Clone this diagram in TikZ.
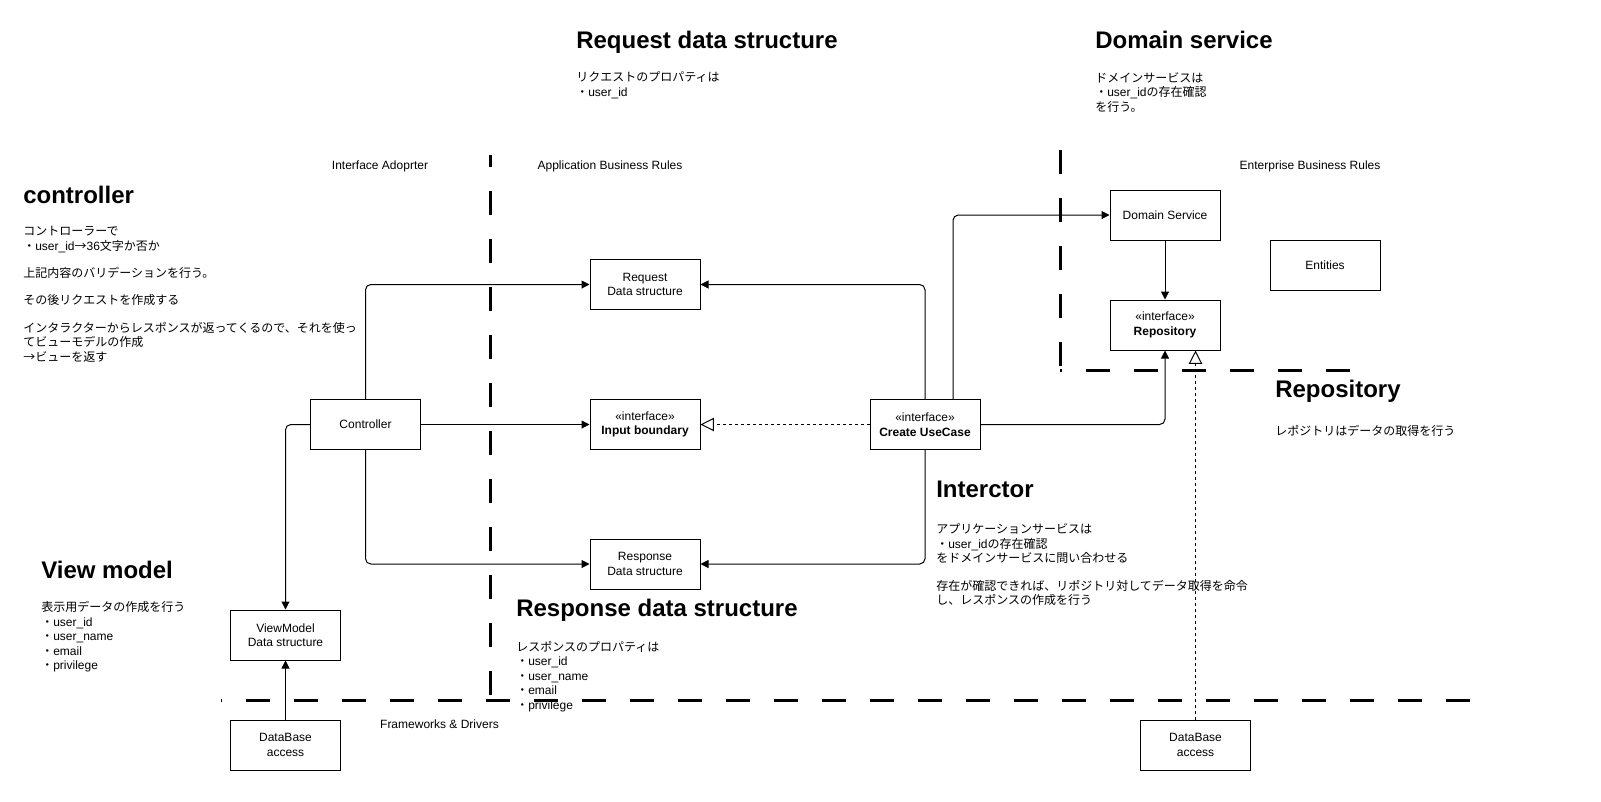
\documentclass[tikz,border=0pt]{standalone}
\usepackage{fontspec}
\setmainfont{Liberation Sans}
\newfontfamily\jp{Noto Sans CJK JP}
\usetikzlibrary{arrows.meta}

\tikzset{
  box/.style={draw, line width=0.75pt, minimum width=82.5pt, minimum height=37.5pt,
    inner sep=0pt, align=center, font=\fontsize{9pt}{10.8pt}\selectfont},
  heading/.style={anchor=base west, inner sep=0pt, font=\fontsize{18pt}{21.6pt}\selectfont\bfseries},
  % 多行说明: 锚点在最后一行的基线
  memo/.style={anchor=base west, inner sep=0pt, align=left, font=\fontsize{9pt}{10.8pt}\selectfont},
  layer/.style={anchor=base, inner sep=0pt, font=\fontsize{9pt}{10.8pt}\selectfont},
  border/.style={line width=2.25pt, dash pattern=on 18pt off 18pt},
  flow/.style={line width=0.75pt, rounded corners=4pt, -{Triangle[length=6pt,width=6pt]}},
  realize/.style={line width=0.75pt, dash pattern=on 2.25pt off 2.25pt,
    -{Triangle[open,length=10pt,width=10pt,fill=white]}},
}

\begin{document}
\begin{tikzpicture}[x=0.75pt, y=-0.75pt]
        \useasboundingbox (0,0) rectangle (1601,801);

        % 边界线
        \draw[border] (490,695) -- (490,155);
        \draw[border] (1060,150) -- (1060,368);
        \draw[border] (1350,370) -- (1060,370);
        \draw[border] (1470,700) -- (221,700);

        % 层名
        \node[layer] (ia) at (380,169) {Interface Adoprter};
        \node[layer] (abr) at (610,169) {Application Business Rules};
        \node[layer] (ebr) at (1310,169) {Enterprise Business Rules};
        \node[layer] (fd) at (439.5,728) {Frameworks \& Drivers};

        % 节点
        \node[box] (ctrl) at (365.5,424.5) {Controller};
        \node[box] (req) at (645,284.5) {Request\\Data structure};
        \node[box] (input) at (645,424.5) {«interface»\\\textbf{Input boundary}};
        \node[box] (resp) at (645,564) {Response\\Data structure};
        \node[box] (usecase) at (925,424.5) {«interface»\\\textbf{Create UseCase}};
        \node[box] (vm) at (285.5,635) {ViewModel\\Data structure};
        \node[box] (dbl) at (285.5,745) {DataBase\\access};
        \node[box] (dsvc) at (1165,215) {Domain Service};
        \node[box] (ent) at (1325,265) {Entities};
        \node[box] (repo) at (1165,325) {«interface»\\\textbf{Repository}};
        \node[box] (dbr) at (1195.5,745) {DataBase\\access};

        % 连接线
        \draw[flow] (ctrl.north) |- (req.west);
        \draw[flow] (ctrl) -- (input);
        \draw[flow] (ctrl.south) |- (resp.west);
        \draw[flow] (ctrl.west) -| (vm.north);
        \draw[flow] (dbl) -- (vm);
        \draw[realize] (usecase) -- (input);
        \draw[flow] (usecase.north) |- (req.east);
        \draw[flow] ([xshift=21pt]usecase.north) |- (dsvc.west);
        \draw[flow] (usecase.south) |- (resp.east);
        \draw[flow] (usecase.east) -| (repo.south);
        \draw[flow] (dsvc) -- (repo);
        \draw[realize] (dbr.north) -- (dbr.north |- repo.south);

        % 说明
        \node[heading] (hctrl) at (23,203) {controller};
        \node[memo] (mctrl) at (23,361) {{\jp コントローラーで}\\
          {\jp ・}user\_id{\jp →}36{\jp 文字か否か}\\[9.75pt]
          {\jp 上記内容のバリデーションを行う。}\\[9.75pt]
          {\jp その後リクエストを作成する}\\[9.75pt]
          {\jp インタラクターからレスポンスが返ってくるので、それを使っ}\\
          {\jp てビューモデルの作成}\\
          {\jp →ビューを返す}};

        \node[heading] (hreq) at (576,48) {Request data structure};
        \node[memo] (mreq) at (576,96) {{\jp リクエストのプロパティは}\\
          {\jp ・}user\_id};

        \node[heading] (hdsvc) at (1095,48) {Domain service};
        \node[memo] (mdsvc) at (1095,111) {{\jp ドメインサービスは}\\
          {\jp ・}user\_id{\jp の存在確認}\\
          {\jp を行う。}};

        \node[heading] (hrepo) at (1275,397) {Repository};
        \node[memo] (mrepo) at (1275,435) {{\jp レポジトリはデータの取得を行う}};

        \node[heading] (hint) at (936,497) {Interctor};
        \node[memo] (mint) at (936,604.5) {{\jp アプリケーションサービスは}\\
          {\jp ・}user\_id{\jp の存在確認}\\
          {\jp をドメインサービスに問い合わせる}\\[9.75pt]
          {\jp 存在が確認できれば、リポジトリ対してデータ取得を命令}\\
          {\jp し、レスポンスの作成を行う}};

        \node[heading] (hvm) at (41,578) {View model};
        \node[memo] (mvm) at (41,669.5) {{\jp 表示用データの作成を行う}\\
          {\jp ・}user\_id\\
          {\jp ・}user\_name\\
          {\jp ・}email\\
          {\jp ・}privilege};

        \node[heading] (hresp) at (516,616) {Response data structure};
        \node[memo] (mresp) at (516,709) {{\jp レスポンスのプロパティは}\\
          {\jp ・}user\_id\\
          {\jp ・}user\_name\\
          {\jp ・}email\\
          {\jp ・}privilege};
    \end{tikzpicture}
\end{document}
